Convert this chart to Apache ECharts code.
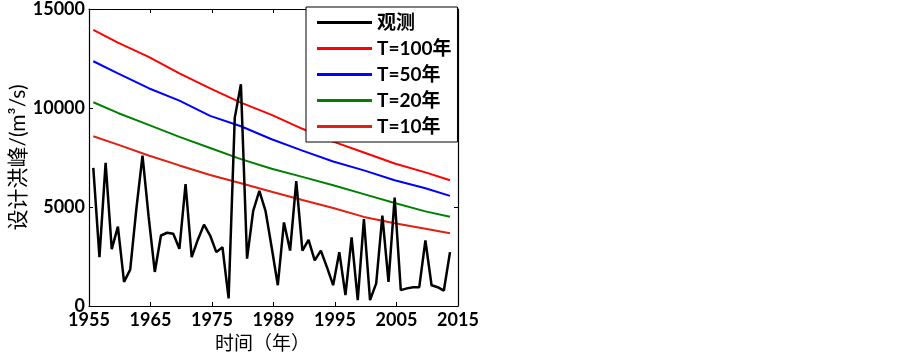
<!DOCTYPE html>
<html>
<head>
<meta charset="utf-8">
<script src="https://cdn.jsdelivr.net/npm/echarts@6/dist/echarts.min.js"></script>
<style>
html, body { margin: 0; padding: 0; background: #fff; }
#chart { width: 903px; height: 358px; }
</style>
</head>
<body>
<div id="chart"></div>
<script>
// 实测洪峰 1956-2014
var years = [1956,1957,1958,1959,1960,1961,1962,1963,1964,1965,1966,1967,1968,1969,1970,
    1971,1972,1973,1974,1975,1976,1977,1978,1979,1980,1981,1982,1983,1984,1985,1986,1987,
    1988,1989,1990,1991,1992,1993,1994,1995,1996,1997,1998,1999,2000,2001,2002,2003,2004,
    2005,2006,2007,2008,2009,2010,2011,2012,2013,2014];
var observed = [6980,2470,7230,2870,4010,1220,1840,4900,7600,4500,1720,3560,3700,3650,2890,
    6150,2470,3350,4110,3560,2720,2970,385,9500,11200,2390,4810,5810,4810,2970,1050,4220,
    2800,6310,2800,3340,2300,2800,1950,1050,2720,550,3470,300,4390,300,1140,4560,1220,
    5480,800,890,950,950,3310,1050,950,780,2720];

// 设计洪峰（非一致性）
var designYears = [1956,1960,1965,1970,1975,1980,1985,1990,1995,2000,2005,2010,2014];
var t100 = [13950,13300,12580,11750,10990,10270,9650,8950,8300,7750,7200,6750,6350];
var t50  = [12360,11750,11000,10370,9600,9080,8420,7850,7300,6850,6350,5950,5560];
var t20  = [10290,9750,9150,8540,7980,7420,6930,6520,6100,5650,5200,4780,4510];
var t10  = [8570,8150,7600,7100,6620,6200,5770,5350,4950,4500,4180,3900,3670];

var xTickLabels = ['1955','1965','1975','1989','1995','2005','2015'];
var xMin = 1955.3, xMax = 2015.3;

function pairs(xs, ys) {
    return xs.map(function (x, i) { return [x, ys[i]]; });
}

var font = "Lato, 'Noto Sans CJK SC', sans-serif";
var chart = echarts.init(document.getElementById('chart'));

function frameX(pos, show) {
    return {
        type: 'value', position: pos, min: xMin, max: xMax, interval: 10,
        axisLine: { show: true, onZero: false, lineStyle: { color: '#000', width: 1.2 } },
        axisTick: { show: true, inside: true, length: 4, lineStyle: { color: '#000' } },
        axisLabel: {
            show: show, color: '#000', fontSize: 18, fontWeight: 'bold', fontFamily: font, margin: 5,
            formatter: function (v) { return xTickLabels[Math.round((v - xMin) / 10)]; }
        },
        splitLine: { show: false }
    };
}
function frameY(pos, show) {
    return {
        type: 'value', position: pos, min: 0, max: 15000, interval: 5000,
        axisLine: { show: true, onZero: false, lineStyle: { color: '#000', width: 1.2 } },
        axisTick: { show: true, inside: true, length: 4, lineStyle: { color: '#000' } },
        axisLabel: {
            show: show, color: '#000', fontSize: 18, fontWeight: 'bold', fontFamily: font, margin: 4,
            formatter: function (v) { return String(v); }
        },
        splitLine: { show: false }
    };
}

var xBottom = frameX('bottom', true);
xBottom.name = '时间（年）';
xBottom.nameLocation = 'middle';
xBottom.nameGap = 25;
xBottom.nameTextStyle = { color: '#000', fontSize: 19, fontFamily: font, padding: [0, 22, 0, 0] };

var yLeft = frameY('left', true);
yLeft.name = '设计洪峰/(m³/s)';
yLeft.nameLocation = 'middle';
yLeft.nameGap = 57;
yLeft.nameTextStyle = { color: '#000', fontSize: 21, fontFamily: font };

function lineSeries(name, data, color, width, z) {
    return {
        name: name, type: 'line', data: data, symbol: 'none', z: z,
        lineStyle: { color: color, width: width }, itemStyle: { color: color }
    };
}

chart.setOption({
    animation: false,
    grid: { left: 89, top: 7, right: 445, bottom: 52 },
    legend: {
        left: 306, top: 7, orient: 'vertical',
        icon: 'rect', itemWidth: 55, itemHeight: 3, itemGap: 7,
        padding: [6, 6, 6, 11],
        borderColor: '#000', borderWidth: 1, backgroundColor: '#fff',
        textStyle: { color: '#000', fontSize: 19, fontWeight: 'bold', fontFamily: font, lineHeight: 19 },
        data: ['观测', 'T=100年', 'T=50年', 'T=20年', 'T=10年']
    },
    xAxis: [xBottom, frameX('top', false)],
    yAxis: [yLeft, frameY('right', false)],
    series: [
        lineSeries('T=100年', pairs(designYears, t100), '#ff0000', 2, 2),
        lineSeries('T=50年', pairs(designYears, t50), '#0000ff', 2, 2),
        lineSeries('T=20年', pairs(designYears, t20), '#008000', 2, 2),
        lineSeries('T=10年', pairs(designYears, t10), '#e02010', 2, 2),
        lineSeries('观测', pairs(years, observed), '#000000', 2.5, 3)
    ]
});
</script>
</body>
</html>
